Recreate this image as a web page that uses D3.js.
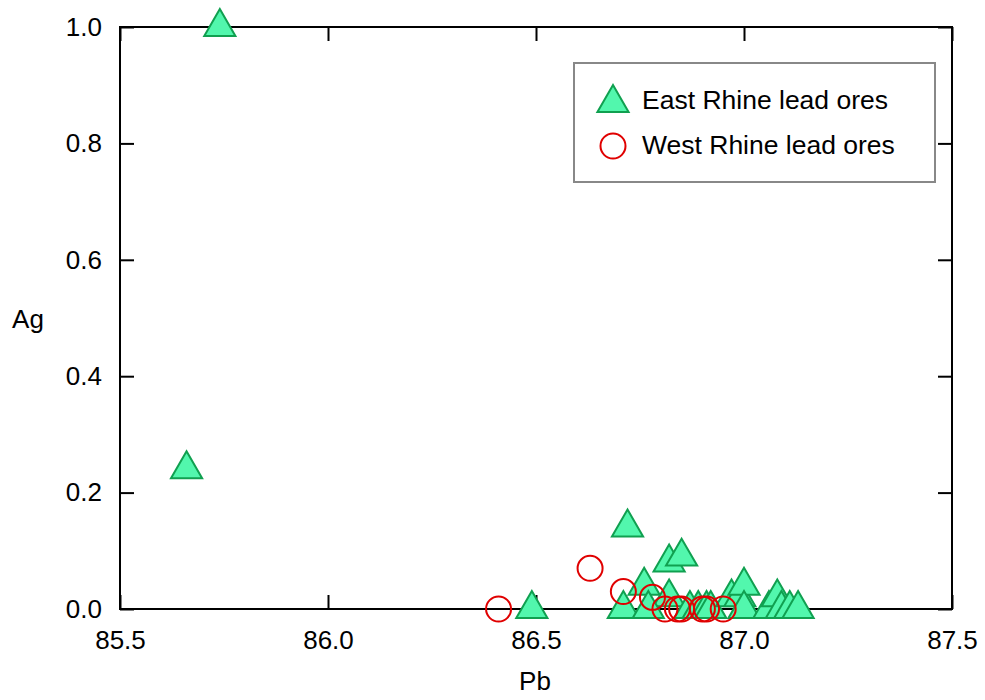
<!DOCTYPE html>
<html>
<head>
<meta charset="utf-8">
<script src="https://cdn.jsdelivr.net/npm/d3@7"></script>
<style>
  html, body { margin: 0; padding: 0; background: #fff; }
  svg { display: block; font-family: "Liberation Sans", Arial, sans-serif; }
</style>
</head>
<body>
<svg id="chart" width="985" height="700"></svg>
<script>
// East Rhine lead ores: Pb vs Ag
const eastPb = [85.66, 85.74, 86.49, 86.72, 86.82, 86.85, 86.76, 86.82, 86.71, 86.77,
                86.87, 86.89, 86.91, 86.92, 86.97, 86.99, 87.00, 87.00, 87.06, 87.08,
                87.09, 87.11, 87.13];
const eastAg = [0.24, 1.00, 0.00, 0.14, 0.08, 0.09, 0.04, 0.02, 0.00, 0.00,
                0.00, 0.00, 0.00, 0.00, 0.02, 0.02, 0.04, 0.00, 0.00, 0.02,
                0.00, 0.00, 0.00];

// West Rhine lead ores: Pb vs Ag
const westPb = [86.41, 86.63, 86.71, 86.78, 86.81, 86.84, 86.85, 86.90, 86.91, 86.95];
const westAg = [0.00, 0.07, 0.03, 0.02, 0.00, 0.00, 0.00, 0.00, 0.00, 0.00];

const xTicks = [85.5, 86.0, 86.5, 87.0, 87.5];
const yTicks = [0.0, 0.2, 0.4, 0.6, 0.8, 1.0];
const seriesNames = ["East Rhine lead ores", "West Rhine lead ores"];

const svg = d3.select("#chart");
const plotL = 120, plotR = 952, plotT = 27, plotB = 609;
const fontSize = 26;

const x = d3.scaleLinear().domain([85.5, 87.5]).range([plotL, plotR]);
const y = d3.scaleLinear().domain([0, 1]).range([plotB, plotT]);

const triFill = "#52f7ad", triStroke = "#10a050", circStroke = "#e00000";
const tri = d3.symbol().type(d3.symbolTriangle).size(420);

// Frame
svg.append("rect")
  .attr("x", plotL).attr("y", plotT)
  .attr("width", plotR - plotL).attr("height", plotB - plotT)
  .attr("fill", "none").attr("stroke", "#000").attr("stroke-width", 2);

const tickLen = 14;
const fmt = d3.format(".1f");

// Bottom axis (ticks inward)
const xAxis = d3.axisBottom(x).tickValues(xTicks).tickFormat(fmt)
  .tickSizeInner(-tickLen).tickSizeOuter(0).tickPadding(22);
const gx = svg.append("g").attr("transform", `translate(0,${plotB})`).call(xAxis);
gx.select(".domain").remove();
gx.selectAll("line").attr("stroke", "#000").attr("stroke-width", 2);
gx.selectAll("text").attr("font-size", fontSize).attr("fill", "#000")
  .attr("font-family", "Liberation Sans, Arial, sans-serif");

// Top axis ticks
const gxt = svg.append("g").attr("transform", `translate(0,${plotT})`)
  .call(d3.axisTop(x).tickValues(xTicks).tickFormat("").tickSizeInner(-tickLen).tickSizeOuter(0));
gxt.select(".domain").remove();
gxt.selectAll("line").attr("stroke", "#000").attr("stroke-width", 2);

// Left axis
const yAxis = d3.axisLeft(y).tickValues(yTicks).tickFormat(fmt)
  .tickSizeInner(-tickLen).tickSizeOuter(0).tickPadding(18);
const gy = svg.append("g").attr("transform", `translate(${plotL},0)`).call(yAxis);
gy.select(".domain").remove();
gy.selectAll("line").attr("stroke", "#000").attr("stroke-width", 2);
gy.selectAll("text").attr("font-size", fontSize).attr("fill", "#000")
  .attr("font-family", "Liberation Sans, Arial, sans-serif");

// Right axis ticks
const gyr = svg.append("g").attr("transform", `translate(${plotR},0)`)
  .call(d3.axisRight(y).tickValues(yTicks).tickFormat("").tickSizeInner(-tickLen).tickSizeOuter(0));
gyr.select(".domain").remove();
gyr.selectAll("line").attr("stroke", "#000").attr("stroke-width", 2);

// Axis titles
svg.append("text").attr("x", 535).attr("y", 690).attr("text-anchor", "middle")
  .attr("font-size", fontSize).text("Pb");
svg.append("text").attr("x", 28).attr("y", 328).attr("text-anchor", "middle")
  .attr("font-size", fontSize).text("Ag");

// East Rhine points (triangles)
const east = eastPb.map((p, i) => ({ pb: p, ag: eastAg[i] }));
svg.append("g").selectAll("path").data(east).join("path")
  .attr("d", tri)
  .attr("transform", d => `translate(${x(d.pb)},${y(d.ag)})`)
  .attr("fill", triFill).attr("stroke", triStroke).attr("stroke-width", 2)
  .attr("stroke-linejoin", "miter");

// West Rhine points (open circles)
const west = westPb.map((p, i) => ({ pb: p, ag: westAg[i] }));
svg.append("g").selectAll("circle").data(west).join("circle")
  .attr("cx", d => x(d.pb)).attr("cy", d => y(d.ag)).attr("r", 12.5)
  .attr("fill", "none").attr("stroke", circStroke).attr("stroke-width", 2);

// Legend
const lg = svg.append("g");
lg.append("rect").attr("x", 574).attr("y", 63).attr("width", 361).attr("height", 119)
  .attr("fill", "#fff").attr("stroke", "#888").attr("stroke-width", 2);
lg.append("path").attr("d", tri).attr("transform", "translate(613,103)")
  .attr("fill", triFill).attr("stroke", triStroke).attr("stroke-width", 2);
lg.append("circle").attr("cx", 613).attr("cy", 146).attr("r", 12.5)
  .attr("fill", "none").attr("stroke", circStroke).attr("stroke-width", 2);
lg.selectAll("text.lab").data(seriesNames).join("text").attr("class", "lab")
  .attr("x", 642).attr("y", (d, i) => 109 + i * 45)
  .attr("font-size", 26.5).text(d => d);
</script>
</body>
</html>
